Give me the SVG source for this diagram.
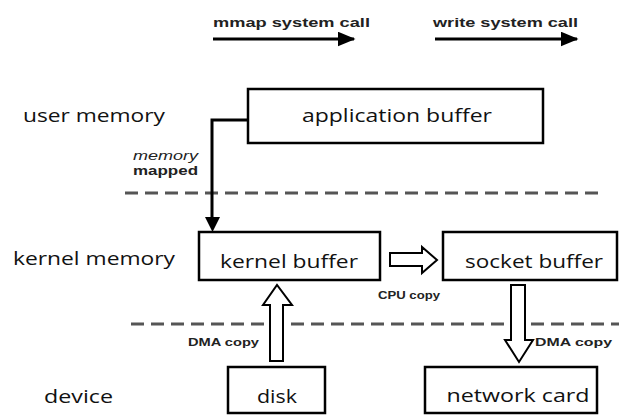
<svg xmlns="http://www.w3.org/2000/svg" width="619" height="415" viewBox="0 0 619 415">
<defs>
<style>
.box{fill:#fff;stroke:#000;stroke-width:2.5}
.lbl{font-family:"Open Sans","Noto Sans","Liberation Sans",sans-serif;font-size:18px;fill:#111}
.big{font-family:"Open Sans","Noto Sans","Liberation Sans",sans-serif;font-size:18px;fill:#111;text-anchor:middle}
.sm{font-family:"Liberation Sans","Noto Sans",sans-serif;font-size:12px;font-weight:bold;fill:#222}
.xs{font-family:"Liberation Sans","Noto Sans",sans-serif;font-size:10px;font-weight:bold;fill:#222}
.dash{stroke:#555;stroke-width:3;stroke-dasharray:13 7;fill:none}
.hollow{fill:#fff;stroke:#000;stroke-width:2;stroke-linejoin:miter}
</style>
<marker id="ah" markerWidth="6" markerHeight="5" refX="5.5" refY="2.5" orient="auto" markerUnits="strokeWidth">
<path d="M0,0 L6,2.5 L0,5 Z" fill="#000"/>
</marker>
</defs>
<rect width="619" height="415" fill="#fff"/>

<g id="legend">
<text class="sm" x="213" y="27" textLength="157" lengthAdjust="spacingAndGlyphs">mmap system call</text>
<line x1="213" y1="39" x2="354" y2="39" stroke="#000" stroke-width="3" marker-end="url(#ah)"/>
<text class="sm" x="433" y="27" textLength="145" lengthAdjust="spacingAndGlyphs">write system call</text>
<line x1="435" y1="39" x2="577" y2="39" stroke="#000" stroke-width="3" marker-end="url(#ah)"/>
</g>

<g id="layers">
<text class="lbl" x="23" y="122" textLength="142" lengthAdjust="spacingAndGlyphs">user memory</text>
<text class="lbl" x="13" y="265" textLength="162" lengthAdjust="spacingAndGlyphs">kernel memory</text>
<text class="lbl" x="44" y="403" textLength="69" lengthAdjust="spacingAndGlyphs">device</text>
<line class="dash" x1="125" y1="193" x2="603" y2="193"/>
<line class="dash" x1="131" y1="324" x2="619" y2="324"/>
</g>

<g id="app-buffer">
<rect class="box" x="248" y="89" width="295" height="54"/>
<text class="big" x="397" y="122" textLength="190" lengthAdjust="spacingAndGlyphs">application buffer</text>
</g>
<g id="kernel-buffer">
<rect class="box" x="199" y="232" width="181" height="48"/>
<text class="big" x="289" y="268" textLength="138" lengthAdjust="spacingAndGlyphs">kernel buffer</text>
</g>
<g id="socket-buffer">
<rect class="box" x="443" y="232" width="174" height="48"/>
<text class="big" x="534" y="268" textLength="138" lengthAdjust="spacingAndGlyphs">socket buffer</text>
</g>
<g id="disk">
<rect class="box" x="228" y="367" width="97" height="46"/>
<text class="big" x="277" y="403" textLength="40" lengthAdjust="spacingAndGlyphs">disk</text>
</g>
<g id="network-card">
<rect class="box" x="425" y="367" width="172" height="46"/>
<text class="big" x="518" y="402" textLength="143" lengthAdjust="spacingAndGlyphs">network card</text>
</g>

<g id="connectors">
<polyline points="248,120 212,120 212,218" fill="none" stroke="#000" stroke-width="3"/>
<path d="M205,217 L220,217 L212.5,232 Z" fill="#000"/>
<text x="133" y="160" font-family="Liberation Sans,Noto Sans,sans-serif" font-size="12" font-style="italic" fill="#222" textLength="65" lengthAdjust="spacingAndGlyphs">memory</text>
<text class="sm" x="133" y="175" font-weight="normal" textLength="65" lengthAdjust="spacingAndGlyphs">mapped</text>

<path class="hollow" d="M390,253 L422,253 L422,247 L437,260 L422,273 L422,266 L390,266 Z"/>
<text class="xs" x="378" y="299" textLength="62" lengthAdjust="spacingAndGlyphs">CPU copy</text>

<path class="hollow" d="M270,361 L270,305 L263,305 L277,285 L292,305 L283,305 L283,361 Z"/>
<text class="xs" x="188" y="346" textLength="71" lengthAdjust="spacingAndGlyphs">DMA copy</text>

<path class="hollow" d="M511,285 L525,285 L525,340 L533,340 L519,362 L505,340 L511,340 Z"/>
<text class="xs" x="535" y="346" textLength="77" lengthAdjust="spacingAndGlyphs">DMA copy</text>
</g>
</svg>
